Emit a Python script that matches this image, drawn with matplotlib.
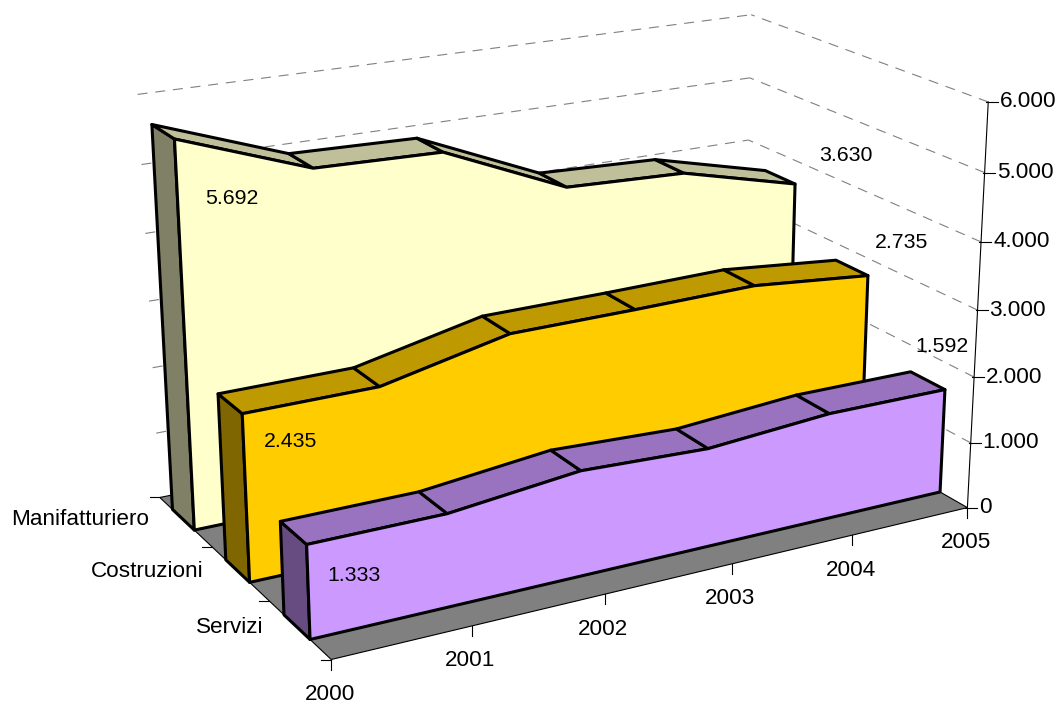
import numpy as np
import matplotlib
matplotlib.use("Agg")
import matplotlib.pyplot as plt
from matplotlib.patches import Polygon

plt.rcParams['font.family'] = ['Liberation Sans', 'DejaVu Sans']

years = ['2000', '2001', '2002', '2003', '2004', '2005']
categories = ['Servizi', 'Costruzioni', 'Manifatturiero']
servizi = [1333, 1338, 1540, 1465, 1600, 1592]
costruzioni = [2435, 2447, 2860, 2874, 2904, 2735]
manifatturiero = [5692, 5005, 4960, 4155, 4085, 3630]
z_ticks = [0, 1000, 2000, 3000, 4000, 5000, 6000]
z_labels = ['0', '1.000', '2.000', '3.000', '4.000', '5.000', '6.000']

# (year index, depth, value) -> pixel pairs used to fit the camera
calib = [
    (0, 0, 0, 329, 660), (5, 0, 0, 967, 507), (0, 3, 0, 158, 495),
    (5, 0, 6000, 988, 101), (5, 3, 6000, 750, 15), (0, 3, 6000, 136, 93),
    (5, 0, 3000, 977, 308), (1, 0, 0, 470, 625), (2, 0, 0, 605, 592),
    (3, 0, 0, 731, 562), (4, 0, 0, 851, 535), (0, 1, 0, 270, 600),
    (0, 2, 0, 213, 546), (0, .33, 0, 310, 641), (5, .33, 0, 941, 493),
    (0, .75, 0, 284, 617), (0, 2.36, 0, 193, 529),
    (0, 2.33, 5692, 175, 140), (0, 2.75, 5692, 153, 124),
    (0, 1.33, 2435, 243, 414), (0, 1.75, 2435, 219, 394),
    (0, .33, 1333, 307, 545), (0, .75, 1333, 282, 524),
    (5, 2.33, 3630, 794, 184), (5, 2.75, 3630, 766, 171),
    (5, 1.33, 2735, 867, 276), (5, 1.75, 2735, 837, 262),
    (5, .33, 1592, 946, 390), (5, .75, 1592, 913, 373),
]


def fit_camera(points):
    rows = []
    rhs = []
    for x, y, z, u, v in points:
        z = z / 1000.0
        rows.append([x, y, z, 1, 0, 0, 0, 0, -u * x, -u * y, -u * z])
        rhs.append(u)
        rows.append([0, 0, 0, 0, x, y, z, 1, -v * x, -v * y, -v * z])
        rhs.append(v)
    sol = np.linalg.lstsq(np.array(rows, float), np.array(rhs, float), rcond=None)[0]
    return np.append(sol, 1.0).reshape(3, 4)


cam = fit_camera(calib)


def project(x, y, z):
    h = cam @ np.array([x, y, z / 1000.0, 1.0])
    return h[0] / h[2], h[1] / h[2]


def poly(ax, pts, color, zorder, lw=2.2):
    ax.add_patch(Polygon([project(*p) for p in pts], closed=True, facecolor=color,
                         edgecolor='black', linewidth=lw, joinstyle='round', zorder=zorder))


def line(ax, a, b, **kw):
    pa = project(*a)
    pb = project(*b)
    ax.plot([pa[0], pb[0]], [pa[1], pb[1]], **kw)


def draw_series(ax, values, depth, face, top, side, zorder):
    yf = depth + 0.33
    yb = depth + 0.75
    n = len(values)
    poly(ax, [(0, yf, 0), (0, yb, 0), (0, yb, values[0]), (0, yf, values[0])], side, zorder)
    for i in range(n - 1):
        poly(ax, [(i, yf, values[i]), (i, yb, values[i]), (i + 1, yb, values[i + 1]),
                  (i + 1, yf, values[i + 1])], top, zorder)
    pts = [(0, yf, 0)] + [(i, yf, values[i]) for i in range(n)] + [(n - 1, yf, 0)]
    poly(ax, pts, face, zorder)


def value_label(ax, idx, depth, value, text, dx, dy):
    px, py = project(idx, depth + 0.33, value)
    ax.text(px + dx, py + dy, text, fontsize=15.3, ha='center', va='center', zorder=10)


fig = plt.figure(figsize=(10.61, 7.04), dpi=100)
ax = fig.add_axes([0, 0, 1, 1])
ax.set_xlim(0, 1061)
ax.set_ylim(704, 0)
ax.axis('off')

# walls
grid_style = dict(color='#808080', linewidth=0.8, dashes=(9, 7), zorder=1)
for z in z_ticks[1:]:
    line(ax, (5, 0, z), (5, 3, z), **grid_style)
    line(ax, (0, 3, z), (5, 3, z), **grid_style)

# floor
poly(ax, [(0, 0, 0), (5, 0, 0), (5, 3, 0), (0, 3, 0)], '#808080', 2, lw=0.8)

# axes
axis_style = dict(color='black', linewidth=0.8, zorder=3)
line(ax, (5, 0, 0), (5, 0, 6000), **axis_style)
for z, lab in zip(z_ticks, z_labels):
    px, py = project(5, 0, z)
    ax.plot([px - 2, px + 10], [py, py], **axis_style)
    ax.text(px + 12, py, lab, fontsize=16.2, ha='left', va='center', zorder=10)
for i, lab in enumerate(years):
    px, py = project(i, 0, 0)
    ax.plot([px, px], [py, py + 10], **axis_style)
    ax.text(px - 1.5, py + 35, lab, fontsize=16.2, ha='center', va='center', zorder=10)
for d in range(4):
    px, py = project(0, d, 0)
    ax.plot([px - 10, px], [py, py], **axis_style)
for d, lab in enumerate(categories):
    px, py = project(0, d + 0.5, 0)
    ax.text(px - 36, py - 2, lab, fontsize=16.2, ha='right', va='center', zorder=10)

draw_series(ax, manifatturiero, 2, '#FFFFCC', '#BFBF99', '#808066', 4)
draw_series(ax, costruzioni, 1, '#FFCC00', '#BF9900', '#806600', 5)
draw_series(ax, servizi, 0, '#CC99FF', '#9973BF', '#664C80', 6)

value_label(ax, 0, 2, manifatturiero[0], '5.692', 57, 59)
value_label(ax, 5, 2, manifatturiero[5], '3.630', 51, -29)
value_label(ax, 0, 1, costruzioni[0], '2.435', 48, 28)
value_label(ax, 5, 1, costruzioni[5], '2.735', 34, -33)
value_label(ax, 0, 0, servizi[0], '1.333', 47, 31)
value_label(ax, 5, 0, servizi[5], '1.592', -3, -43)

fig.savefig('out.png', dpi=100)
